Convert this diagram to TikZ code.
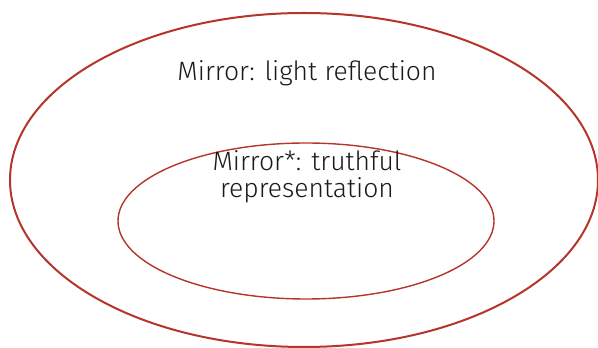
\documentclass[tikz,border=0pt]{standalone}
\usepackage{fontspec}
\setmainfont{Fira Sans Light}
\usetikzlibrary{shapes.geometric}
\definecolor{mred}{HTML}{B5352B}
\definecolor{mtext}{HTML}{1A1A1A}
\tikzset{
  ring/.style={ellipse, draw=mred, inner sep=0pt},
  label/.style={text=mtext, font=\fontsize{26.5}{27}\selectfont, align=center, inner sep=0pt, anchor=base}
}
\begin{document}
\begin{tikzpicture}[x=1pt,y=1pt]
\useasboundingbox (0,0) rectangle (598,348);
\node[ring, line width=2pt, minimum width=588pt, minimum height=334pt] (outer) at (304,168) {};
\node[ring, line width=1.4pt, minimum width=376pt, minimum height=156pt] (inner) at (306,127) {};
\node[label] (t1) at (307,267) {Mirror: light reflection};
\node[label] (t2) at (307,150) {Mirror*: truthful\\representation};
\end{tikzpicture}
\end{document}
